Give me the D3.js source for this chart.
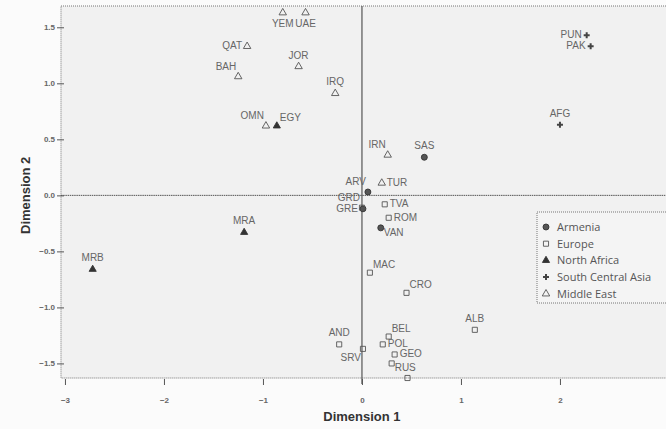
<!DOCTYPE html>
<html>
<head>
<meta charset="utf-8">
<script src="https://cdn.jsdelivr.net/npm/d3@7"></script>
<style>
    html, body {margin: 0; padding: 0; background: #fbfbfb;}
    svg {display: block;}
</style>
</head>
<body>
<div id="chart"></div>
<script>
const groups = ["Armenia", "Europe", "North Africa", "South Central Asia", "Middle East"];

const codes = ["SAS", "ARV", "GRE", "VAN",
    "GRD", "TVA", "ROM", "MAC", "CRO", "ALB", "AND", "SRV", "BEL", "POL", "GEO", "RUS", "",
    "EGY", "MRA", "MRB",
    "PUN", "PAK", "AFG",
    "YEM", "UAE", "QAT", "JOR", "BAH", "IRQ", "OMN", "IRN", "TUR"];

const dim1 = [0.63, 0.06, 0.01, 0.19,
    0.00, 0.23, 0.27, 0.08, 0.45, 1.14, -0.23, 0.01, 0.27, 0.21, 0.33, 0.30, 0.46,
    -0.86, -1.19, -2.72,
    2.27, 2.31, 2.00,
    -0.80, -0.57, -1.16, -0.64, -1.25, -0.27, -0.97, 0.26, 0.20];

const dim2 = [0.34, 0.03, -0.12, -0.29,
    -0.11, -0.08, -0.20, -0.69, -0.87, -1.20, -1.33, -1.37, -1.26, -1.33, -1.42, -1.50, -1.63,
    0.62, -0.33, -0.66,
    1.43, 1.33, 0.63,
    1.63, 1.63, 1.33, 1.15, 1.06, 0.91, 0.62, 0.36, 0.11];

const groupOf = [0, 0, 0, 0,
    1, 1, 1, 1, 1, 1, 1, 1, 1, 1, 1, 1, 1,
    2, 2, 2,
    3, 3, 3,
    4, 4, 4, 4, 4, 4, 4, 4, 4];

const xTicks = [-3, -2, -1, 0, 1, 2];
const yTicks = [-1.5, -1.0, -0.5, 0.0, 0.5, 1.0, 1.5];

// where each label sits relative to its marker
const labelPlace = {
    SAS: "t", ARV: "tl", GRE: "l", VAN: "br",
    GRD: "tl", TVA: "r", ROM: "r", MAC: "tr", CRO: "tr", ALB: "t", AND: "t", SRV: "bl",
    BEL: "tr", POL: "r", GEO: "r", RUS: "br",
    EGY: "tr", MRA: "t", MRB: "t",
    PUN: "l", PAK: "l", AFG: "t",
    YEM: "b", UAE: "b", QAT: "l", JOR: "t", BAH: "tl", IRQ: "t", OMN: "tl", IRN: "tl", TUR: "r"
};

const W = 666, H = 429;
const plot = {left: 61, top: 6, bottom: 378};

const x = d3.scaleLinear().domain([-3.04, 3.12]).range([plot.left, plot.left + 6.16 * 99]);
const y = d3.scaleLinear().domain([-1.63, 1.69]).range([plot.bottom, plot.top]);

const ink = "#555";

const symbols = [
    {type: d3.symbolCircle, size: 28, fill: "#555", stroke: "#333"},
    {type: d3.symbolSquare, size: 26, fill: "none", stroke: ink},
    {type: d3.symbolTriangle, size: 22, fill: "#333", stroke: "#333"},
    {type: d3.symbolCross, size: 20, fill: "#444", stroke: "none"},
    {type: d3.symbolTriangle, size: 24, fill: "none", stroke: ink}
];

const svg = d3.select("#chart").append("svg")
    .attr("width", W)
    .attr("height", H);

// plot background and dotted frame
svg.append("rect")
    .attr("x", x.range()[0])
    .attr("y", plot.top)
    .attr("width", x.range()[1] - x.range()[0])
    .attr("height", plot.bottom - plot.top)
    .attr("fill", "#f1f1f1")
    .attr("stroke", "#777")
    .attr("stroke-width", 1)
    .attr("stroke-dasharray", "1,1");

// reference lines through the origin
svg.append("line")
    .attr("x1", x(0)).attr("x2", x(0))
    .attr("y1", plot.top).attr("y2", plot.bottom + 6)
    .attr("stroke", "#555").attr("stroke-width", 1.2);
svg.append("line")
    .attr("x1", x.range()[0]).attr("x2", x.range()[1])
    .attr("y1", y(0)).attr("y2", y(0))
    .attr("stroke", "#555").attr("stroke-width", 1)
    .attr("stroke-dasharray", "1.5,0.7");

// axes
const yAxis = svg.append("g")
    .attr("transform", "translate(" + plot.left + ",0)")
    .call(d3.axisLeft(y).tickValues(yTicks).tickFormat(d3.format(".1f")).tickSize(4).tickPadding(2));
yAxis.selectAll(".tick line").attr("x2", -4).attr("x1", 3).attr("stroke", "#555");

const xAxis = svg.append("g")
    .attr("transform", "translate(0," + plot.bottom + ")")
    .call(d3.axisBottom(x).tickValues(xTicks).tickFormat(d3.format("d")).tickSize(7).tickPadding(12));
xAxis.selectAll(".tick line").attr("y1", 1).attr("stroke", "#555");

[yAxis, xAxis].forEach(a => {
    a.select(".domain").remove();
    a.selectAll("text")
        .attr("font-family", "Liberation Sans, Arial, sans-serif")
        .attr("font-size", 8)
        .attr("font-weight", "bold")
        .attr("fill", "#666");
});

// points
const pts = codes.map((c, i) => ({code: c, x: dim1[i], y: dim2[i], g: groupOf[i]}));

svg.append("g").selectAll("path")
    .data(pts)
    .enter().append("path")
    .attr("transform", d => "translate(" + x(d.x) + "," + y(d.y) + ")")
    .attr("d", d => d3.symbol().type(symbols[d.g].type).size(symbols[d.g].size)())
    .attr("fill", d => symbols[d.g].fill)
    .attr("stroke", d => symbols[d.g].stroke)
    .attr("stroke-width", 0.9);

// labels
const offs = {
    t: [0, -8, "middle"], b: [0, 14, "middle"],
    l: [-5, 3, "end"], r: [5, 3, "start"],
    tl: [-2, -7, "end"], tr: [3, -5, "start"],
    bl: [-2, 12, "end"], br: [3, 8, "start"]
};

svg.append("g").selectAll("text")
    .data(pts.filter(d => d.code))
    .enter().append("text")
    .attr("x", d => x(d.x) + offs[labelPlace[d.code]][0])
    .attr("y", d => y(d.y) + offs[labelPlace[d.code]][1])
    .attr("text-anchor", d => offs[labelPlace[d.code]][2])
    .attr("font-family", "Liberation Sans, Arial, sans-serif")
    .attr("font-size", 10)
    .attr("fill", "#666")
    .text(d => d.code);

// legend
const legend = svg.append("g")
    .attr("transform", "translate(537,212)");

legend.append("rect")
    .attr("width", 140)
    .attr("height", 91)
    .attr("fill", "#f4f4f4")
    .attr("stroke", "#777")
    .attr("stroke-dasharray", "1,1");

const item = legend.selectAll(".item")
    .data(groups)
    .enter().append("g")
    .attr("class", "item")
    .attr("transform", (d, i) => "translate(0," + (15 + i * 16.7) + ")");

item.append("path")
    .attr("transform", "translate(9,0)")
    .attr("d", (d, i) => d3.symbol().type(symbols[i].type).size(symbols[i].size)())
    .attr("fill", (d, i) => symbols[i].fill)
    .attr("stroke", (d, i) => symbols[i].stroke)
    .attr("stroke-width", 0.9);

item.append("text")
    .attr("x", 20)
    .attr("dy", "0.35em")
    .attr("font-family", "Open Sans, sans-serif")
    .attr("font-size", 11)
    .attr("fill", "#555")
    .text(d => d);

// axis titles
svg.append("text")
    .attr("x", x(0))
    .attr("y", 421)
    .attr("text-anchor", "middle")
    .attr("font-family", "Liberation Sans, Arial, sans-serif")
    .attr("font-weight", "bold")
    .attr("font-size", 13)
    .attr("fill", "#333")
    .text("Dimension 1");

svg.append("text")
    .attr("transform", "translate(30," + y(0) + ") rotate(-90)")
    .attr("text-anchor", "middle")
    .attr("font-family", "Liberation Sans, Arial, sans-serif")
    .attr("font-weight", "bold")
    .attr("font-size", 13)
    .attr("fill", "#333")
    .text("Dimension 2");
</script>
</body>
</html>
